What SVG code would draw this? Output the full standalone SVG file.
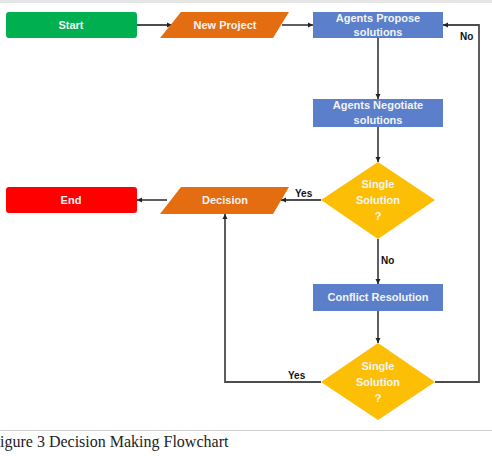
<svg xmlns="http://www.w3.org/2000/svg" width="492" height="456" viewBox="0 0 492 456">
<style>
.t{font-family:"Liberation Sans",Arial,sans-serif;font-weight:bold;font-size:11px;fill:#f4f4f4;text-anchor:middle}
.l{font-family:"Liberation Sans",Arial,sans-serif;font-weight:bold;font-size:10px;fill:#111}
.c{fill:none;stroke:#4d4d4d;stroke-width:1.8}
.blue{fill:#5b7fcb}
.or{fill:#e46d12}
.yel{fill:#fcbf06}
</style>
<defs>
<marker id="a" markerWidth="6" markerHeight="6" refX="5" refY="3" orient="auto" markerUnits="userSpaceOnUse">
<path d="M0,0.5 L5,3 L0,5.5 z" fill="#222"/>
</marker>
</defs>
<rect x="0" y="0" width="492" height="3" fill="#e6e6e6"/>
<g id="connectors">
<path class="c" d="M137,25 H172" marker-end="url(#a)"/>
<path class="c" d="M282,25 H313" marker-end="url(#a)"/>
<path class="c" d="M378,38 V99" marker-end="url(#a)"/>
<path class="c" d="M378,127 V162" marker-end="url(#a)"/>
<path class="c" d="M321,200 H281" marker-end="url(#a)"/>
<path class="c" d="M167,200 H137" marker-end="url(#a)"/>
<path class="c" d="M378,239 V284" marker-end="url(#a)"/>
<path class="c" d="M378,311 V343" marker-end="url(#a)"/>
<path class="c" d="M321,382 H225 V214" marker-end="url(#a)"/>
<path class="c" d="M435,382 H479 V25 H443" marker-end="url(#a)"/>
<text class="l" x="460" y="40">No</text>
<text class="l" x="295" y="197">Yes</text>
<text class="l" x="381" y="264">No</text>
<text class="l" x="288" y="379">Yes</text>
</g>
<g id="start">
<rect x="6" y="12" width="131" height="26" rx="3" fill="#00b050"/>
<text class="t" x="71" y="29">Start</text>
</g>
<g id="newproject">
<polygon class="or" points="181,12 289,12 273,38 160,38"/>
<text class="t" x="225" y="29">New Project</text>
</g>
<g id="propose">
<rect class="blue" x="313" y="12" width="130" height="26"/>
<text class="t" x="378" y="22">Agents Propose</text>
<text class="t" x="378" y="36">solutions</text>
</g>
<g id="negotiate">
<rect class="blue" x="313" y="99" width="130" height="28"/>
<text class="t" x="378" y="109">Agents Negotiate</text>
<text class="t" x="378" y="124">solutions</text>
</g>
<g id="diamond1">
<polygon class="yel" points="378,162 435,200 378,239 321,200"/>
<text class="t" x="378" y="188">Single</text>
<text class="t" x="378" y="204">Solution</text>
<text class="t" x="378" y="220">?</text>
</g>
<g id="decision">
<polygon class="or" points="181,187 289,187 273,214 160,214"/>
<text class="t" x="225" y="204">Decision</text>
</g>
<g id="end">
<rect x="6" y="187" width="131" height="26" rx="3" fill="#fe0000"/>
<text class="t" x="71" y="204">End</text>
</g>
<g id="conflict">
<rect class="blue" x="313" y="284" width="130" height="27"/>
<text class="t" x="378" y="301">Conflict Resolution</text>
</g>
<g id="diamond2">
<polygon class="yel" points="378,343 435,382 378,420 321,382"/>
<text class="t" x="378" y="370">Single</text>
<text class="t" x="378" y="386">Solution</text>
<text class="t" x="378" y="402">?</text>
</g>
<line x1="0" y1="430.5" x2="492" y2="430.5" stroke="#cfcfcf" stroke-width="1"/>
<text x="0" y="447" font-family="Liberation Serif,'Times New Roman',serif" font-size="16" fill="#222">igure 3 Decision Making Flowchart</text>
</svg>
